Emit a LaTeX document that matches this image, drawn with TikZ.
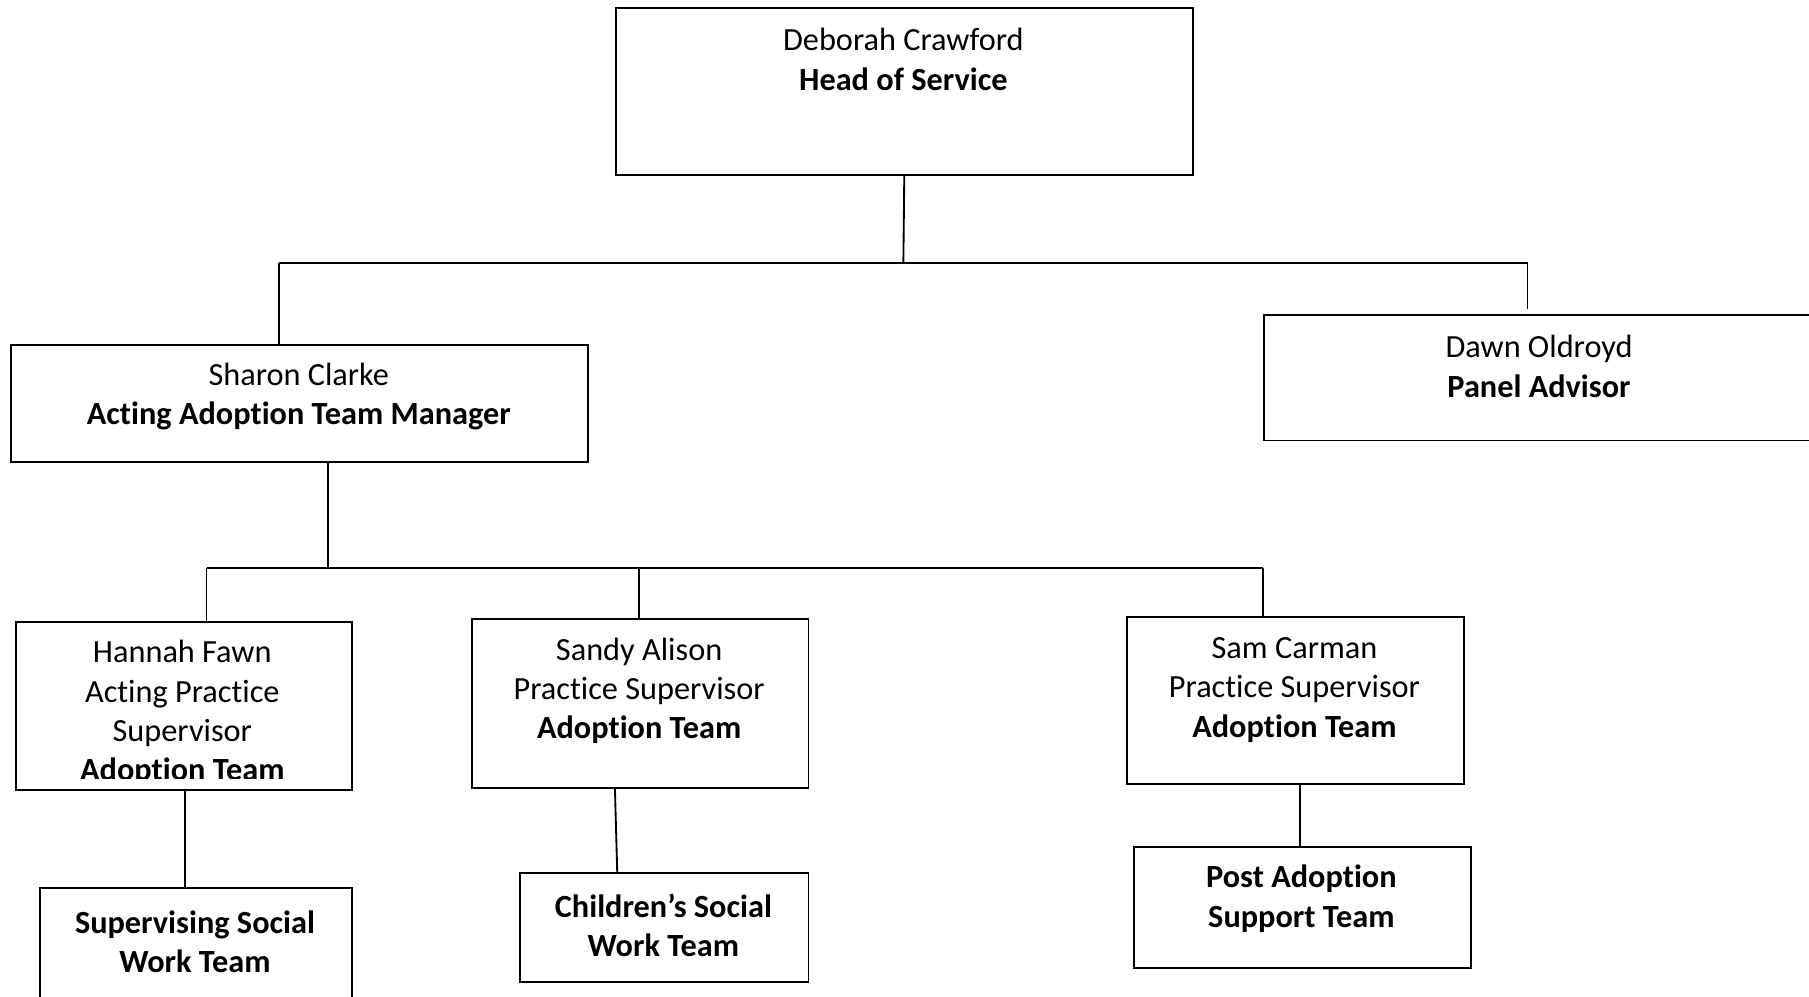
\documentclass[tikz,border=0pt]{standalone}
\usepackage{fontspec}
\setmainfont{Carlito}[Ligatures=NoCommon]
\begin{document}
\begin{tikzpicture}[x=1pt,y=-1pt,
  box/.style={draw, line width=1.6pt, rectangle, inner sep=0pt, anchor=north west},
  txt/.style={align=center, inner sep=0pt, font=\fontsize{28}{34}\selectfont},
  conn/.style={draw, line width=1.6pt}]
\useasboundingbox (0,0) rectangle (1568,864);
\clip (0,0) rectangle (1568,864);
% boxes
\node[box, minimum width=500pt, minimum height=145pt] (head) at (533,6) {};
\node[box, minimum width=500pt, minimum height=102pt] (sharon) at (9,298) {};
\node[box, minimum width=500pt, minimum height=109pt] (dawn) at (1095,272) {};
\node[box, minimum width=291pt, minimum height=146pt] (hannah) at (13,538) {};
\node[box, minimum width=292pt, minimum height=146pt] (sandy) at (408,536) {};
\node[box, minimum width=292pt, minimum height=145pt] (sam) at (976,534) {};
\node[box, minimum width=270pt, minimum height=120pt] (sup) at (34,769) {};
\node[box, minimum width=250pt, minimum height=94pt] (child) at (450,756) {};
\node[box, minimum width=292pt, minimum height=105pt] (post) at (982,733) {};
% texts
\node[txt] (headt) at (783,51.5) {Deborah Crawford\\\textbf{Head of Service}};
\node[txt] (sharont) at (259,344) {Sharon Clarke\\\textbf{Acting Adoption Team Manager}};
\node[txt] (dawnt) at (1334,317.5) {Dawn Oldroyd\\\textbf{Panel Advisor}};
\begin{scope}
\clip (13,538) rectangle (304,675);
\node[txt] (hannaht) at (158,618) {Hannah Fawn\\Acting Practice\\Supervisor\\\textbf{Adoption Team}};
\end{scope}
\node[txt] (sandyt) at (554,599) {Sandy Alison\\Practice Supervisor\\\textbf{Adoption Team}};
\node[txt] (samt) at (1122,598) {Sam Carman\\Practice Supervisor\\\textbf{Adoption Team}};
\node[txt] (supt) at (169,816) {\textbf{Supervising Social}\\\textbf{Work Team}};
\node[txt] (childt) at (575,802) {\textbf{Children’s Social}\\\textbf{Work Team}};
\node[txt] (postt) at (1128,779) {\textbf{Post Adoption}\\\textbf{Support Team}};
% junctions
\coordinate (j1) at (783,228);
\coordinate (j1L) at (242,228);
\coordinate (j1R) at (1324,228);
\coordinate (j2) at (284,492);
\coordinate (j2L) at (179,492);
\coordinate (j2M) at (554,492);
\coordinate (j2R) at (1095,492);
\coordinate (c4) at (160,700);
\coordinate (c5a) at (533,700);
\coordinate (c5b) at (535,700);
\coordinate (c6) at (1127,700);
% connectors
\path[conn] (head.south) -- (j1);
\path[conn] (j1L) -- (j1R);
\path[conn] (j1L) -- (j1L |- sharon.north);
\path[conn, shorten >=4pt] (j1R) -- (j1R |- dawn.north);
\path[conn] (j2 |- sharon.south) -- (j2);
\path[conn] (j2L) -- (j2R);
\path[conn] (j2L) -- (j2L |- hannah.north);
\path[conn] (j2M) -- (j2M |- sandy.north);
\path[conn] (j2R) -- (j2R |- sam.north);
\path[conn] (c4 |- hannah.south) -- (c4 |- sup.north);
\path[conn] (c5a |- sandy.south) -- (c5b |- child.north);
\path[conn] (c6 |- sam.south) -- (c6 |- post.north);
\end{tikzpicture}
\end{document}
